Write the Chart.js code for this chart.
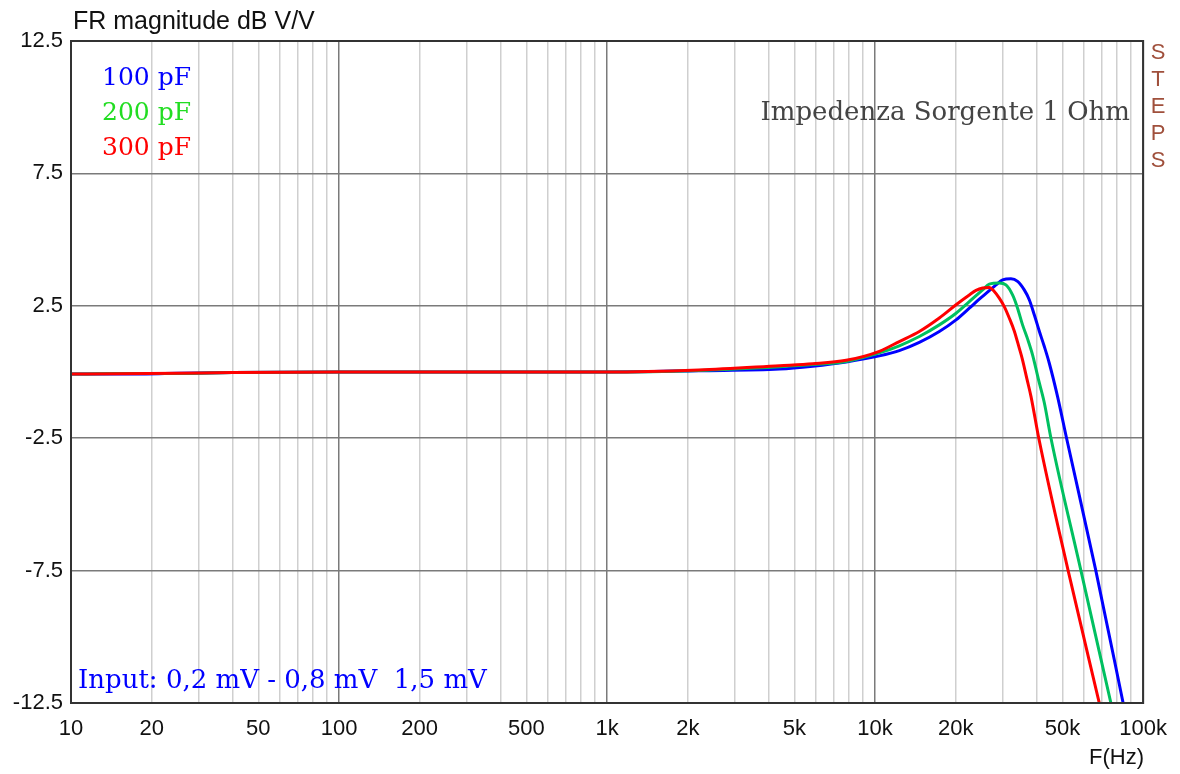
<!DOCTYPE html>
<html>
<head>
<meta charset="utf-8">
<script src="https://cdn.jsdelivr.net/npm/chart.js@4.4.1/dist/chart.umd.min.js"></script>
<style>
  html, body { margin: 0; padding: 0; background: #fff; }
  #wrap { width: 1180px; height: 774px; position: relative; }
</style>
</head>
<body>
<div id="wrap"><canvas id="fr"></canvas></div>
<script>
// frequency response, three source capacitances
let blueFreq = [10, 15, 25, 40, 100, 1000, 2200, 4400, 5850, 7800, 10370, 12310, 14620, 17360, 20040, 22460, 24470, 26670, 28250, 29900, 32130, 34000, 36010, 37600, 39250, 40960, 42760, 44630, 47920, 51800, 66600, 84200]
let blueDb = [-0.08, -0.08, -0.05, -0.02, 0, 0, 0.05, 0.11, 0.22, 0.38, 0.61, 0.81, 1.12, 1.53, 1.97, 2.41, 2.75, 3.07, 3.29, 3.48, 3.52, 3.42, 3.1, 2.73, 2.16, 1.55, 0.97, 0.34, -0.92, -2.5, -7.5, -12.5]

let greenFreq = [10, 15, 25, 40, 100, 1000, 2200, 4400, 5850, 7800, 10370, 12310, 14620, 17360, 20040, 22460, 25180, 26670, 29060, 30770, 32570, 34000, 35490, 37050, 38670, 40700, 42760, 45300, 58600, 75800]
let greenDb = [-0.08, -0.06, -0.06, -0.02, 0, 0, 0.06, 0.2, 0.28, 0.4, 0.72, 0.99, 1.34, 1.78, 2.22, 2.66, 3.1, 3.32, 3.36, 3.29, 2.91, 2.41, 1.78, 1.25, 0.65, -0.29, -1.15, -2.5, -7.5, -12.5]

let redFreq = [10, 15, 25, 40, 100, 1000, 2200, 4400, 5850, 7800, 10370, 12310, 14620, 17360, 20040, 22460, 23800, 25180, 26670, 27840, 29060, 30330, 31660, 33050, 34500, 35400, 36900, 38150, 40800, 52500, 68600]
let redDb = [-0.08, -0.07, -0.05, -0.02, 0, 0, 0.08, 0.24, 0.31, 0.44, 0.78, 1.15, 1.53, 2.04, 2.54, 2.91, 3.08, 3.17, 3.19, 3.04, 2.79, 2.47, 2.04, 1.55, 0.9, 0.5, -0.29, -0.92, -2.5, -7.5, -12.5]

let yTicks = [-12.5, -7.5, -2.5, 2.5, 7.5, 12.5]
let xGrid = [10, 20, 30, 40, 50, 60, 70, 80, 90, 100, 200, 300, 400, 500, 600, 700, 800, 900,
  1000, 2000, 3000, 4000, 5000, 6000, 7000, 8000, 9000, 10000, 20000, 30000, 40000, 50000,
  60000, 70000, 80000, 90000, 100000]
let xLabels = {10: '10', 20: '20', 50: '50', 100: '100', 200: '200', 500: '500', 1000: '1k',
  2000: '2k', 5000: '5k', 10000: '10k', 20000: '20k', 50000: '50k', 100000: '100k'}

let legend = [
  ['100 pF', '#0000ff'],
  ['200 pF', '#22dd22'],
  ['300 pF', '#ff0000'],
]

const pts = (fs, ds) => fs.map((f, i) => ({x: f, y: ds[i]}))

const isDecade = (v) => Math.abs(Math.log10(v) - Math.round(Math.log10(v))) < 1e-9

let textPlugin = {
  id: 'texts',
  afterDraw(chart) {
    let ctx = chart.ctx
    let a = chart.chartArea
    ctx.save()
    // frame
    ctx.strokeStyle = '#333'
    ctx.lineWidth = 2
    ctx.strokeRect(a.left, a.top, a.right - a.left, a.bottom - a.top)

    ctx.textBaseline = 'alphabetic'
    ctx.fillStyle = '#111'
    ctx.font = '25px "Liberation Sans", Arial, sans-serif'
    ctx.textAlign = 'left'
    ctx.fillText('FR magnitude dB V/V', 73, 29)

    ctx.textAlign = 'right'
    ctx.font = '22px "Liberation Sans", Arial, sans-serif'
    ctx.fillText('F(Hz)', 1144, 764)

    // STEPS, stacked
    ctx.textAlign = 'center'
    ctx.fillStyle = '#a0503c'
    'STEPS'.split('').forEach((c, i) => {
      ctx.fillText(c, 1158, 59 + i * 27)
    })

    ctx.font = '25px "DejaVu Serif", serif'
    ctx.textAlign = 'left'
    legend.forEach(([t, col], i) => {
      ctx.fillStyle = col
      ctx.fillText(t, 102, 85 + i * 35)
    })

    ctx.font = '26px "DejaVu Serif", serif'
    ctx.fillStyle = '#444'
    ctx.textAlign = 'right'
    ctx.fillText('Impedenza Sorgente 1 Ohm', 1130, 120)

    ctx.fillStyle = '#0000ff'
    ctx.textAlign = 'left'
    ctx.fillText('Input: 0,2 mV - 0,8 mV  1,5 mV', 78, 688)
    ctx.restore()
  },
}

let chart = new Chart(document.getElementById('fr'), {
  type: 'line',
  data: {
    // first dataset is painted last, so red ends up on top like the original
    datasets: [
      {label: '300 pF', data: pts(redFreq, redDb), borderColor: '#ff0000'},
      {label: '200 pF', data: pts(greenFreq, greenDb), borderColor: '#00c060'},
      {label: '100 pF', data: pts(blueFreq, blueDb), borderColor: '#0000ff'},
    ],
  },
  options: {
    responsive: true,
    maintainAspectRatio: false,
    animation: false,
    devicePixelRatio: 1,
    layout: {padding: {left: 0, top: 41, right: 36, bottom: 0}},
    elements: {
      point: {radius: 0},
      line: {borderWidth: 3, cubicInterpolationMode: 'monotone'},
    },
    plugins: {
      legend: {display: false},
      tooltip: {enabled: false},
    },
    scales: {
      x: {
        type: 'logarithmic',
        min: 10,
        max: 100000,
        afterBuildTicks: (s) => { s.ticks = xGrid.map((v) => ({value: v})) },
        afterFit: (s) => { s.height = 71 },
        ticks: {
          autoSkip: false,
          maxRotation: 0,
          padding: 13,
          color: '#111',
          font: {family: '"Liberation Sans", Arial, sans-serif', size: 22},
          callback: (v) => xLabels[v] || '',
        },
        grid: {
          drawTicks: false,
          lineWidth: 1.5,
          color: (c) => (c.tick && isDecade(c.tick.value) ? '#7a7a7a' : '#cfcfcf'),
        },
        border: {color: '#333', width: 2},
      },
      y: {
        min: -12.5,
        max: 12.5,
        afterBuildTicks: (s) => { s.ticks = yTicks.map((v) => ({value: v})) },
        afterFit: (s) => { s.width = 71 },
        ticks: {
          padding: 8,
          color: '#111',
          font: {family: '"Liberation Sans", Arial, sans-serif', size: 22},
          callback: (v) => v.toFixed(1),
        },
        grid: {
          drawTicks: false,
          lineWidth: 1.5,
          color: '#7a7a7a',
        },
        border: {color: '#333', width: 2},
      },
    },
  },
  plugins: [textPlugin],
})
</script>
</body>
</html>
